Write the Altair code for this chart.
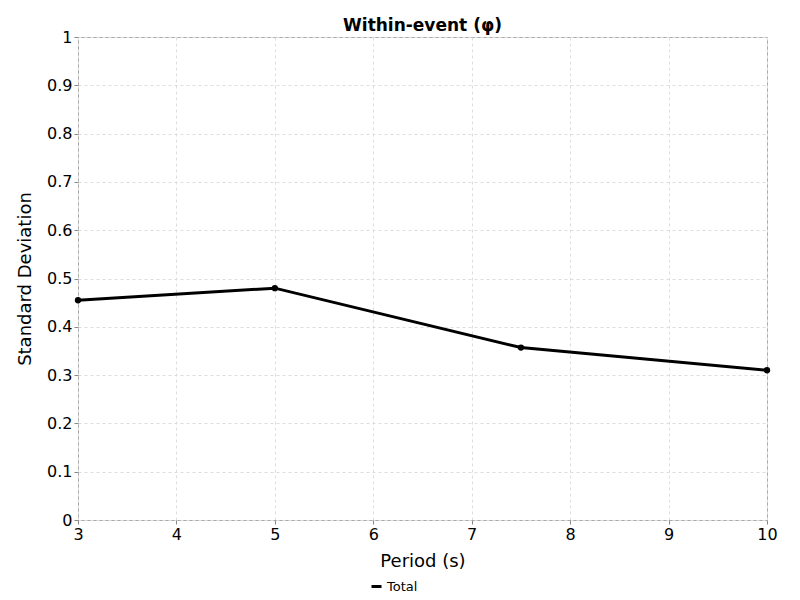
import altair as alt
import pandas as pd

periods = [3, 5, 7.5, 10]
values = [0.455, 0.480, 0.357, 0.310]
series = ["Total"] * 4

df = pd.DataFrame({"Period": periods, "SD": values, "Series": series})

chart = alt.Chart(df).mark_line(
    color="black", strokeWidth=3,
    point=alt.OverlayMarkDef(color="black", size=40, filled=True)
).encode(
    x=alt.X("Period:Q", title="Period (s)", scale=alt.Scale(domain=[3, 10], nice=False),
            axis=alt.Axis(values=[3, 4, 5, 6, 7, 8, 9, 10], format="d", labelFlush=False,
                          labelOverlap=False, titlePadding=10)),
    y=alt.Y("SD:Q", title="Standard Deviation", scale=alt.Scale(domain=[0, 1], nice=False),
            axis=alt.Axis(values=[i / 10 for i in range(11)], labelFlush=False, titlePadding=12,
                          labelExpr="datum.value == 0 ? '0' : datum.value == 1 ? '1' : format(datum.value, '.1f')")),
    color=alt.Color("Series:N", scale=alt.Scale(range=["black"]),
                    legend=alt.Legend(orient="none", legendX=292, legendY=543, title=None,
                                      symbolType="stroke", labelFont="DejaVu Sans", labelFontSize=13,
                                      symbolStrokeWidth=3)),
).properties(
    width=689, height=483,
    title=alt.TitleParams("Within-event (φ)", font="DejaVu Sans", fontSize=17, fontWeight="bold",
                          anchor="middle", offset=-6),
    autosize=alt.AutoSizeParams(type="none"),
    padding={"left": 70, "top": 29, "right": 25, "bottom": 72},
).configure_axis(
    labelFont="DejaVu Sans", titleFont="DejaVu Sans", labelFontSize=16, titleFontSize=18,
    titleFontWeight="normal", labelColor="black", titleColor="black",
    gridColor="#dddddd", gridDash=[3, 3], domain=False, tickColor="#888888", tickSize=4,
).configure_view(stroke="#aaaaaa")

chart.save("out.html", embed_options={"renderer": "svg", "actions": False})
